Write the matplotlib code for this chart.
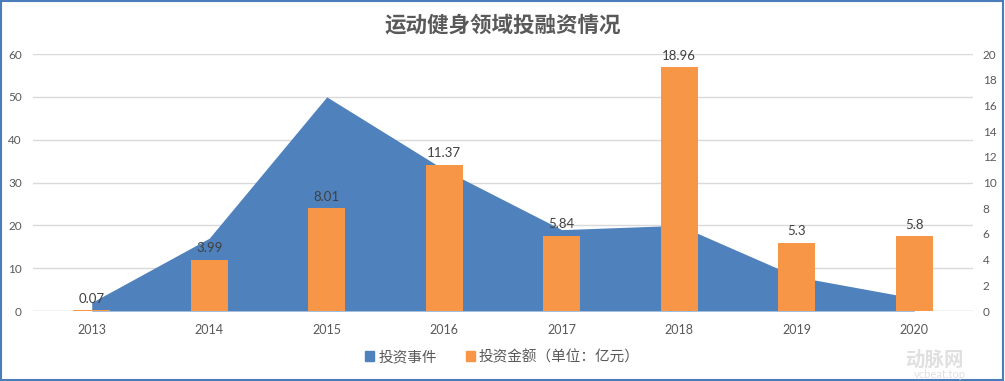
import numpy as np
import matplotlib
matplotlib.use("Agg")
from matplotlib import pyplot as plt
from matplotlib.patches import Rectangle, Patch

plt.rcParams['font.family'] = ['Lato', 'Noto Sans CJK SC', 'DejaVu Sans']

# data
years = ['2013', '2014', '2015', '2016', '2017', '2018', '2019', '2020']
events = [2, 17, 50, 33, 19, 20, 8, 3]            # 投资事件 (left axis)
amounts = [0.07, 3.99, 8.01, 11.37, 5.84, 18.96, 5.3, 5.8]   # 投资金额 (right axis)
amount_labels = ['0.07', '3.99', '8.01', '11.37', '5.84', '18.96', '5.3', '5.8']

blue = '#4F81BD'
orange = '#F79646'
grey_text = '#595959'

fig = plt.figure(figsize=(10.05, 3.81), dpi=100)
ax = fig.add_axes([0.0328, 0.1837, 0.9354, 0.6745])
ax2 = ax.twinx()

x = np.arange(len(years))

# area series
ax.fill_between(x, events, 0, color=blue, linewidth=0, zorder=2)
ax.set_ylim(0, 60)
ax.set_yticks(range(0, 61, 10))
ax.set_xlim(-0.5, len(years) - 0.5)
ax.set_xticks(x)
ax.set_xticklabels(years)
ax.grid(axis='y', color='#D9D9D9', linewidth=1)
ax.set_axisbelow(True)

# bar series
ax2.bar(x, amounts, width=0.315, color=orange, zorder=3)
ax2.set_ylim(0, 20)
ax2.set_yticks(range(0, 21, 2))
for xi, v, lab in zip(x, amounts, amount_labels):
    ax2.annotate(lab, (xi, v), xytext=(0, 4), textcoords='offset points',
                 ha='center', va='bottom', fontsize=9.5, color='#404040')

for a in (ax, ax2):
    for s in a.spines.values():
        s.set_visible(False)
    a.tick_params(length=0, labelsize=8.5, labelcolor=grey_text)
ax.tick_params(axis='x', pad=9, labelsize=9)
ax.tick_params(axis='y', pad=8)
ax2.tick_params(axis='y', pad=7)
ax.axhline(0, color='#D9D9D9', linewidth=1, zorder=1)

fig.text(0.5, 0.935, '运动健身领域投融资情况', ha='center', va='center',
         fontsize=15.5, fontweight='bold', color=grey_text,
         family=['Noto Sans CJK SC'])

handles = [Patch(color=blue), Patch(color=orange)]
fig.legend(handles, ['投资事件', '投资金额（单位：亿元）'], loc='center',
           bbox_to_anchor=(0.5, 0.063), ncol=2, frameon=False,
           handlelength=0.6, handleheight=0.6, handletextpad=0.3,
           columnspacing=2.0, prop={'family': ['Noto Sans CJK SC'], 'size': 10.5},
           labelcolor=grey_text)

# watermark
fig.text(0.93, 0.055, '动脉网', ha='center', va='center', fontsize=14,
         color='#E0E0E0', fontweight='bold', family=['Noto Sans CJK SC'])
fig.text(0.935, 0.018, 'vcbeat.top', ha='center', va='center', fontsize=8,
         color='#E0E0E0')

# outer border
fig.patches.append(Rectangle((0.001, 0.003), 0.997, 0.994, transform=fig.transFigure,
                             fill=False, edgecolor='#4A7EBB', linewidth=1.5))

fig.savefig('out.png', dpi=100, facecolor='white')
